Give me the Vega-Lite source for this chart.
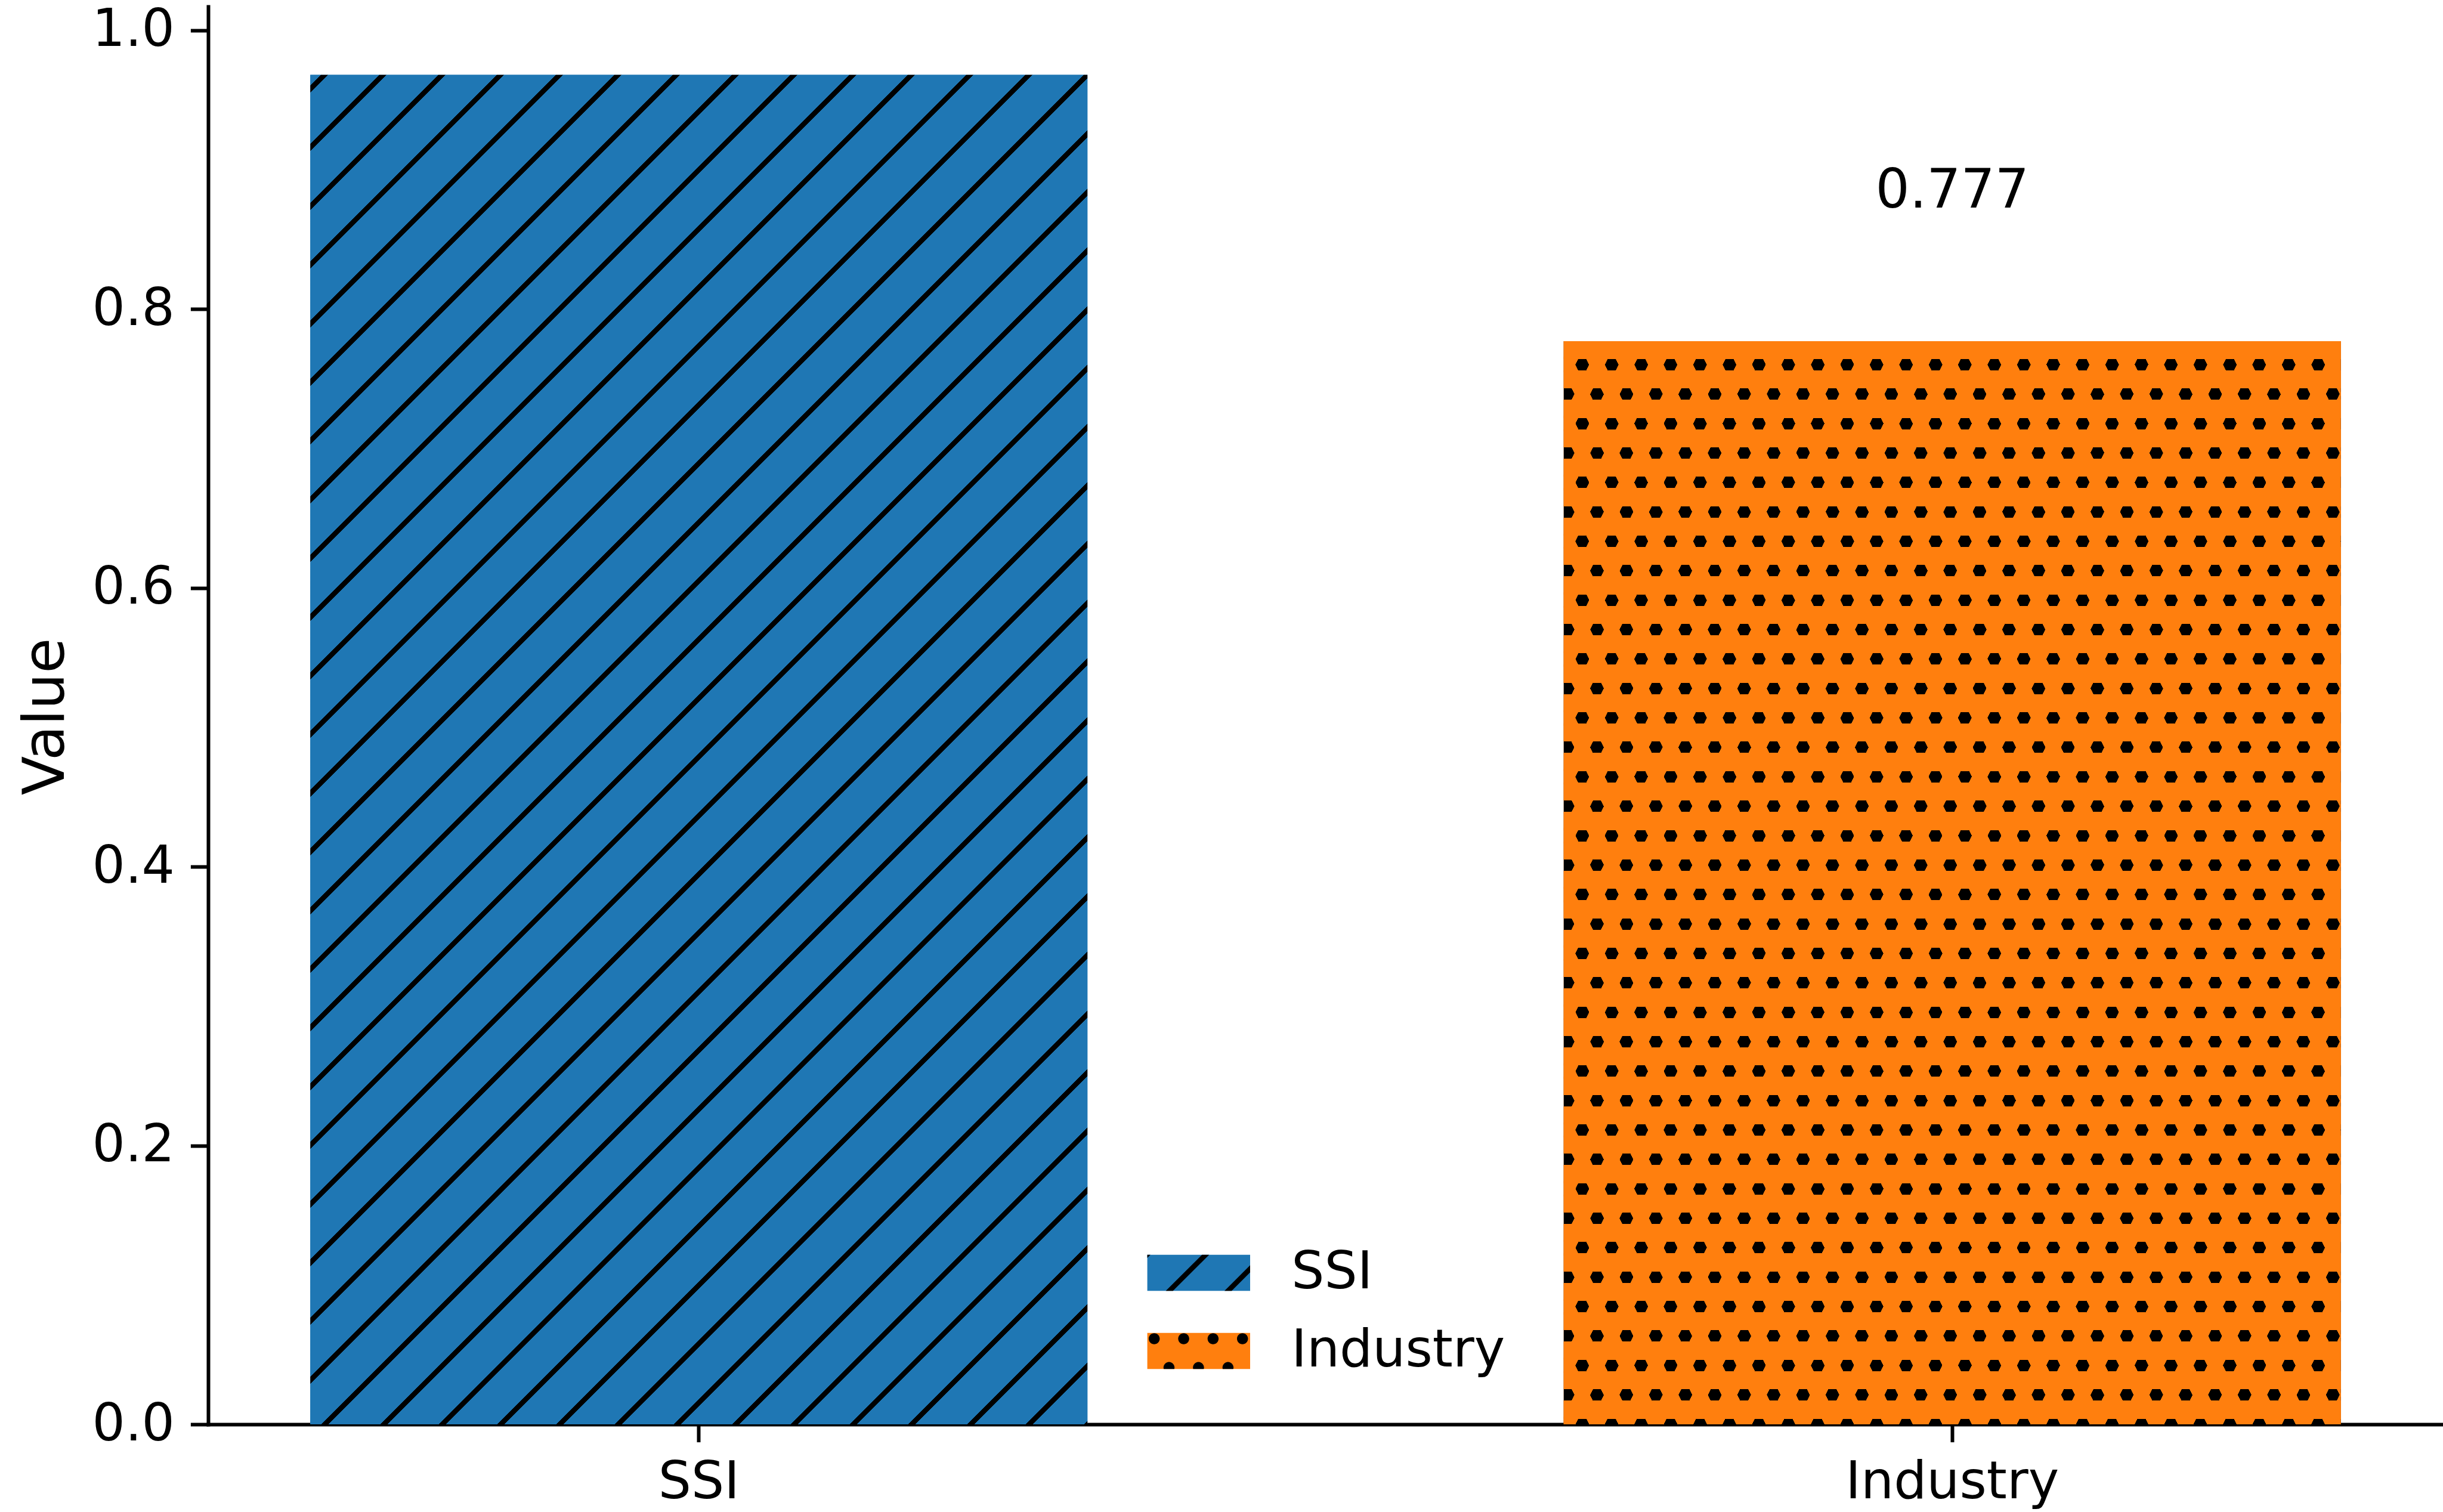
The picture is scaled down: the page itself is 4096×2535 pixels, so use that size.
{
"$schema": "https://vega.github.io/schema/vega-lite/v6.json",
"autosize": {"type": "none"},
"padding": {"left": 349, "top": 11, "right": 0, "bottom": 147},
"width": 3747,
"height": 2377,
"background": "white",
"config": {
  "view": {"stroke": null},
  "font": "DejaVu Sans",
  "axis": {"labelFont": "DejaVu Sans", "labelFontSize": 87, "labelColor": "#000", "labelLimit": 2000, "tickColor": "#000", "tickWidth": 6, "tickSize": 29.6, "domainColor": "#000", "domainWidth": 6, "domainCap": "square", "grid": false, "zindex": 1, "titleFont": "DejaVu Sans", "titleFontWeight": "normal", "titleColor": "#000"}
},
"data": {"values": [
  {"category": "SSI", "value": 0.968},
  {"category": "Industry", "value": 0.777}
]},
"encoding": {
  "x": {"field": "category", "type": "nominal", "sort": ["SSI", "Industry"],
        "scale": {"paddingInner": 0.38, "paddingOuter": 0.0815},
        "axis": {"title": null, "labelAngle": 0, "labelPadding": 25}},
  "y": {"field": "value", "type": "quantitative",
        "scale": {"domain": [0, 1.017], "nice": false, "zero": true},
        "axis": {"title": "Value", "values": [0, 0.2, 0.4, 0.6, 0.8, 1.0], "format": ".1f", "labelPadding": 27,
                 "titleFontSize": 96, "titleX": -243, "titleY": 1190, "titleAngle": 270, "titleBaseline": "alphabetic", "titleAlign": "center"}}
},
"layer": [
  {
    "mark": {"type": "bar"},
    "encoding": {
      "fill": {"field": "category", "type": "nominal", "sort": ["SSI", "Industry"],
               "scale": {"range": ["#1f77b4", "#ff7f0e"]},
               "legend": {"orient": "none", "legendX": 1574.3, "legendY": 2036.5, "title": null, "padding": 0,
                          "symbolType": "M-1,-0.3521H1V0.3521H-1Z", "symbolSize": 29722, "symbolStrokeWidth": 0,
                          "labelFont": "DejaVu Sans", "labelFontSize": 87, "labelColor": "#000", "labelLimit": 2000,
                          "labelOffset": 69, "rowPadding": 1}}
    }
  },
  {
    "transform": [{"filter": "datum.category === 'SSI'"}],
    "mark": {"type": "bar", "fill": {
      "gradient": "linear", "x1": 0, "y1": 0, "x2": 0.75236, "y2": 1.30642,
      "stops": [
        {"offset": 0, "color": "#1f77b4"},
        {"offset": 0.0045, "color": "#1f77b4"}, {"offset": 0.0045, "color": "#000"}, {"offset": 0.00755, "color": "#000"}, {"offset": 0.00755, "color": "#1f77b4"},
        {"offset": 0.0295, "color": "#1f77b4"}, {"offset": 0.0295, "color": "#000"}, {"offset": 0.03255, "color": "#000"}, {"offset": 0.03255, "color": "#1f77b4"},
        {"offset": 0.0545, "color": "#1f77b4"}, {"offset": 0.0545, "color": "#000"}, {"offset": 0.05755, "color": "#000"}, {"offset": 0.05755, "color": "#1f77b4"},
        {"offset": 0.0795, "color": "#1f77b4"}, {"offset": 0.0795, "color": "#000"}, {"offset": 0.08255, "color": "#000"}, {"offset": 0.08255, "color": "#1f77b4"},
        {"offset": 0.1045, "color": "#1f77b4"}, {"offset": 0.1045, "color": "#000"}, {"offset": 0.10755, "color": "#000"}, {"offset": 0.10755, "color": "#1f77b4"},
        {"offset": 0.1295, "color": "#1f77b4"}, {"offset": 0.1295, "color": "#000"}, {"offset": 0.13255, "color": "#000"}, {"offset": 0.13255, "color": "#1f77b4"},
        {"offset": 0.1545, "color": "#1f77b4"}, {"offset": 0.1545, "color": "#000"}, {"offset": 0.15755, "color": "#000"}, {"offset": 0.15755, "color": "#1f77b4"},
        {"offset": 0.1795, "color": "#1f77b4"}, {"offset": 0.1795, "color": "#000"}, {"offset": 0.18255, "color": "#000"}, {"offset": 0.18255, "color": "#1f77b4"},
        {"offset": 0.2045, "color": "#1f77b4"}, {"offset": 0.2045, "color": "#000"}, {"offset": 0.20755, "color": "#000"}, {"offset": 0.20755, "color": "#1f77b4"},
        {"offset": 0.2295, "color": "#1f77b4"}, {"offset": 0.2295, "color": "#000"}, {"offset": 0.23255, "color": "#000"}, {"offset": 0.23255, "color": "#1f77b4"},
        {"offset": 0.2545, "color": "#1f77b4"}, {"offset": 0.2545, "color": "#000"}, {"offset": 0.25755, "color": "#000"}, {"offset": 0.25755, "color": "#1f77b4"},
        {"offset": 0.2795, "color": "#1f77b4"}, {"offset": 0.2795, "color": "#000"}, {"offset": 0.28255, "color": "#000"}, {"offset": 0.28255, "color": "#1f77b4"},
        {"offset": 0.3045, "color": "#1f77b4"}, {"offset": 0.3045, "color": "#000"}, {"offset": 0.30755, "color": "#000"}, {"offset": 0.30755, "color": "#1f77b4"},
        {"offset": 0.3295, "color": "#1f77b4"}, {"offset": 0.3295, "color": "#000"}, {"offset": 0.33255, "color": "#000"}, {"offset": 0.33255, "color": "#1f77b4"},
        {"offset": 0.3545, "color": "#1f77b4"}, {"offset": 0.3545, "color": "#000"}, {"offset": 0.35755, "color": "#000"}, {"offset": 0.35755, "color": "#1f77b4"},
        {"offset": 0.3795, "color": "#1f77b4"}, {"offset": 0.3795, "color": "#000"}, {"offset": 0.38255, "color": "#000"}, {"offset": 0.38255, "color": "#1f77b4"},
        {"offset": 0.4045, "color": "#1f77b4"}, {"offset": 0.4045, "color": "#000"}, {"offset": 0.40755, "color": "#000"}, {"offset": 0.40755, "color": "#1f77b4"},
        {"offset": 0.4295, "color": "#1f77b4"}, {"offset": 0.4295, "color": "#000"}, {"offset": 0.43255, "color": "#000"}, {"offset": 0.43255, "color": "#1f77b4"},
        {"offset": 0.4545, "color": "#1f77b4"}, {"offset": 0.4545, "color": "#000"}, {"offset": 0.45755, "color": "#000"}, {"offset": 0.45755, "color": "#1f77b4"},
        {"offset": 0.4795, "color": "#1f77b4"}, {"offset": 0.4795, "color": "#000"}, {"offset": 0.48255, "color": "#000"}, {"offset": 0.48255, "color": "#1f77b4"},
        {"offset": 0.5045, "color": "#1f77b4"}, {"offset": 0.5045, "color": "#000"}, {"offset": 0.50755, "color": "#000"}, {"offset": 0.50755, "color": "#1f77b4"},
        {"offset": 0.5295, "color": "#1f77b4"}, {"offset": 0.5295, "color": "#000"}, {"offset": 0.53255, "color": "#000"}, {"offset": 0.53255, "color": "#1f77b4"},
        {"offset": 0.5545, "color": "#1f77b4"}, {"offset": 0.5545, "color": "#000"}, {"offset": 0.55755, "color": "#000"}, {"offset": 0.55755, "color": "#1f77b4"},
        {"offset": 0.5795, "color": "#1f77b4"}, {"offset": 0.5795, "color": "#000"}, {"offset": 0.58255, "color": "#000"}, {"offset": 0.58255, "color": "#1f77b4"},
        {"offset": 0.6045, "color": "#1f77b4"}, {"offset": 0.6045, "color": "#000"}, {"offset": 0.60755, "color": "#000"}, {"offset": 0.60755, "color": "#1f77b4"},
        {"offset": 0.6295, "color": "#1f77b4"}, {"offset": 0.6295, "color": "#000"}, {"offset": 0.63255, "color": "#000"}, {"offset": 0.63255, "color": "#1f77b4"},
        {"offset": 0.6545, "color": "#1f77b4"}, {"offset": 0.6545, "color": "#000"}, {"offset": 0.65755, "color": "#000"}, {"offset": 0.65755, "color": "#1f77b4"},
        {"offset": 0.6795, "color": "#1f77b4"}, {"offset": 0.6795, "color": "#000"}, {"offset": 0.68255, "color": "#000"}, {"offset": 0.68255, "color": "#1f77b4"},
        {"offset": 0.7045, "color": "#1f77b4"}, {"offset": 0.7045, "color": "#000"}, {"offset": 0.70755, "color": "#000"}, {"offset": 0.70755, "color": "#1f77b4"},
        {"offset": 0.7295, "color": "#1f77b4"}, {"offset": 0.7295, "color": "#000"}, {"offset": 0.73255, "color": "#000"}, {"offset": 0.73255, "color": "#1f77b4"},
        {"offset": 0.7545, "color": "#1f77b4"}, {"offset": 0.7545, "color": "#000"}, {"offset": 0.75755, "color": "#000"}, {"offset": 0.75755, "color": "#1f77b4"},
        {"offset": 0.7795, "color": "#1f77b4"}, {"offset": 0.7795, "color": "#000"}, {"offset": 0.78255, "color": "#000"}, {"offset": 0.78255, "color": "#1f77b4"},
        {"offset": 0.8045, "color": "#1f77b4"}, {"offset": 0.8045, "color": "#000"}, {"offset": 0.80755, "color": "#000"}, {"offset": 0.80755, "color": "#1f77b4"},
        {"offset": 0.8295, "color": "#1f77b4"}, {"offset": 0.8295, "color": "#000"}, {"offset": 0.83255, "color": "#000"}, {"offset": 0.83255, "color": "#1f77b4"},
        {"offset": 0.8545, "color": "#1f77b4"}, {"offset": 0.8545, "color": "#000"}, {"offset": 0.85755, "color": "#000"}, {"offset": 0.85755, "color": "#1f77b4"},
        {"offset": 0.8795, "color": "#1f77b4"}, {"offset": 0.8795, "color": "#000"}, {"offset": 0.88255, "color": "#000"}, {"offset": 0.88255, "color": "#1f77b4"},
        {"offset": 0.9045, "color": "#1f77b4"}, {"offset": 0.9045, "color": "#000"}, {"offset": 0.90755, "color": "#000"}, {"offset": 0.90755, "color": "#1f77b4"},
        {"offset": 1, "color": "#1f77b4"}
      ]}}
  },
  {
    "transform": [{"filter": "datum.category === 'Industry'"}],
    "mark": {"type": "bar", "fill": "#000"}
  },
  {
    "transform": [{"filter": "datum.category === 'Industry'"}],
    "mark": {"type": "bar", "fill": {
      "gradient": "linear", "x1": 0, "y1": 0, "x2": 0, "y2": 1.08697,
      "stops": [
        {"offset": 0, "color": "#ff7f0e"},
        {"offset": 0.01519, "color": "#ff7f0e"}, {"offset": 0.01519, "color": "transparent"}, {"offset": 0.02481, "color": "transparent"}, {"offset": 0.02481, "color": "#ff7f0e"},
        {"offset": 0.04019, "color": "#ff7f0e"}, {"offset": 0.04019, "color": "transparent"}, {"offset": 0.04981, "color": "transparent"}, {"offset": 0.04981, "color": "#ff7f0e"},
        {"offset": 0.06519, "color": "#ff7f0e"}, {"offset": 0.06519, "color": "transparent"}, {"offset": 0.07481, "color": "transparent"}, {"offset": 0.07481, "color": "#ff7f0e"},
        {"offset": 0.09019, "color": "#ff7f0e"}, {"offset": 0.09019, "color": "transparent"}, {"offset": 0.09981, "color": "transparent"}, {"offset": 0.09981, "color": "#ff7f0e"},
        {"offset": 0.11519, "color": "#ff7f0e"}, {"offset": 0.11519, "color": "transparent"}, {"offset": 0.12481, "color": "transparent"}, {"offset": 0.12481, "color": "#ff7f0e"},
        {"offset": 0.14019, "color": "#ff7f0e"}, {"offset": 0.14019, "color": "transparent"}, {"offset": 0.14981, "color": "transparent"}, {"offset": 0.14981, "color": "#ff7f0e"},
        {"offset": 0.16519, "color": "#ff7f0e"}, {"offset": 0.16519, "color": "transparent"}, {"offset": 0.17481, "color": "transparent"}, {"offset": 0.17481, "color": "#ff7f0e"},
        {"offset": 0.19019, "color": "#ff7f0e"}, {"offset": 0.19019, "color": "transparent"}, {"offset": 0.19981, "color": "transparent"}, {"offset": 0.19981, "color": "#ff7f0e"},
        {"offset": 0.21519, "color": "#ff7f0e"}, {"offset": 0.21519, "color": "transparent"}, {"offset": 0.22481, "color": "transparent"}, {"offset": 0.22481, "color": "#ff7f0e"},
        {"offset": 0.24019, "color": "#ff7f0e"}, {"offset": 0.24019, "color": "transparent"}, {"offset": 0.24981, "color": "transparent"}, {"offset": 0.24981, "color": "#ff7f0e"},
        {"offset": 0.26519, "color": "#ff7f0e"}, {"offset": 0.26519, "color": "transparent"}, {"offset": 0.27481, "color": "transparent"}, {"offset": 0.27481, "color": "#ff7f0e"},
        {"offset": 0.29019, "color": "#ff7f0e"}, {"offset": 0.29019, "color": "transparent"}, {"offset": 0.29981, "color": "transparent"}, {"offset": 0.29981, "color": "#ff7f0e"},
        {"offset": 0.31519, "color": "#ff7f0e"}, {"offset": 0.31519, "color": "transparent"}, {"offset": 0.32481, "color": "transparent"}, {"offset": 0.32481, "color": "#ff7f0e"},
        {"offset": 0.34019, "color": "#ff7f0e"}, {"offset": 0.34019, "color": "transparent"}, {"offset": 0.34981, "color": "transparent"}, {"offset": 0.34981, "color": "#ff7f0e"},
        {"offset": 0.36519, "color": "#ff7f0e"}, {"offset": 0.36519, "color": "transparent"}, {"offset": 0.37481, "color": "transparent"}, {"offset": 0.37481, "color": "#ff7f0e"},
        {"offset": 0.39019, "color": "#ff7f0e"}, {"offset": 0.39019, "color": "transparent"}, {"offset": 0.39981, "color": "transparent"}, {"offset": 0.39981, "color": "#ff7f0e"},
        {"offset": 0.41519, "color": "#ff7f0e"}, {"offset": 0.41519, "color": "transparent"}, {"offset": 0.42481, "color": "transparent"}, {"offset": 0.42481, "color": "#ff7f0e"},
        {"offset": 0.44019, "color": "#ff7f0e"}, {"offset": 0.44019, "color": "transparent"}, {"offset": 0.44981, "color": "transparent"}, {"offset": 0.44981, "color": "#ff7f0e"},
        {"offset": 0.46519, "color": "#ff7f0e"}, {"offset": 0.46519, "color": "transparent"}, {"offset": 0.47481, "color": "transparent"}, {"offset": 0.47481, "color": "#ff7f0e"},
        {"offset": 0.49019, "color": "#ff7f0e"}, {"offset": 0.49019, "color": "transparent"}, {"offset": 0.49981, "color": "transparent"}, {"offset": 0.49981, "color": "#ff7f0e"},
        {"offset": 0.51519, "color": "#ff7f0e"}, {"offset": 0.51519, "color": "transparent"}, {"offset": 0.52481, "color": "transparent"}, {"offset": 0.52481, "color": "#ff7f0e"},
        {"offset": 0.54019, "color": "#ff7f0e"}, {"offset": 0.54019, "color": "transparent"}, {"offset": 0.54981, "color": "transparent"}, {"offset": 0.54981, "color": "#ff7f0e"},
        {"offset": 0.56519, "color": "#ff7f0e"}, {"offset": 0.56519, "color": "transparent"}, {"offset": 0.57481, "color": "transparent"}, {"offset": 0.57481, "color": "#ff7f0e"},
        {"offset": 0.59019, "color": "#ff7f0e"}, {"offset": 0.59019, "color": "transparent"}, {"offset": 0.59981, "color": "transparent"}, {"offset": 0.59981, "color": "#ff7f0e"},
        {"offset": 0.61519, "color": "#ff7f0e"}, {"offset": 0.61519, "color": "transparent"}, {"offset": 0.62481, "color": "transparent"}, {"offset": 0.62481, "color": "#ff7f0e"},
        {"offset": 0.64019, "color": "#ff7f0e"}, {"offset": 0.64019, "color": "transparent"}, {"offset": 0.64981, "color": "transparent"}, {"offset": 0.64981, "color": "#ff7f0e"},
        {"offset": 0.66519, "color": "#ff7f0e"}, {"offset": 0.66519, "color": "transparent"}, {"offset": 0.67481, "color": "transparent"}, {"offset": 0.67481, "color": "#ff7f0e"},
        {"offset": 0.69019, "color": "#ff7f0e"}, {"offset": 0.69019, "color": "transparent"}, {"offset": 0.69981, "color": "transparent"}, {"offset": 0.69981, "color": "#ff7f0e"},
        {"offset": 0.71519, "color": "#ff7f0e"}, {"offset": 0.71519, "color": "transparent"}, {"offset": 0.72481, "color": "transparent"}, {"offset": 0.72481, "color": "#ff7f0e"},
        {"offset": 0.74019, "color": "#ff7f0e"}, {"offset": 0.74019, "color": "transparent"}, {"offset": 0.74981, "color": "transparent"}, {"offset": 0.74981, "color": "#ff7f0e"},
        {"offset": 0.76519, "color": "#ff7f0e"}, {"offset": 0.76519, "color": "transparent"}, {"offset": 0.77481, "color": "transparent"}, {"offset": 0.77481, "color": "#ff7f0e"},
        {"offset": 0.79019, "color": "#ff7f0e"}, {"offset": 0.79019, "color": "transparent"}, {"offset": 0.79981, "color": "transparent"}, {"offset": 0.79981, "color": "#ff7f0e"},
        {"offset": 0.81519, "color": "#ff7f0e"}, {"offset": 0.81519, "color": "transparent"}, {"offset": 0.82481, "color": "transparent"}, {"offset": 0.82481, "color": "#ff7f0e"},
        {"offset": 0.84019, "color": "#ff7f0e"}, {"offset": 0.84019, "color": "transparent"}, {"offset": 0.84981, "color": "transparent"}, {"offset": 0.84981, "color": "#ff7f0e"},
        {"offset": 0.86519, "color": "#ff7f0e"}, {"offset": 0.86519, "color": "transparent"}, {"offset": 0.87481, "color": "transparent"}, {"offset": 0.87481, "color": "#ff7f0e"},
        {"offset": 0.89019, "color": "#ff7f0e"}, {"offset": 0.89019, "color": "transparent"}, {"offset": 0.89981, "color": "transparent"}, {"offset": 0.89981, "color": "#ff7f0e"},
        {"offset": 0.91519, "color": "#ff7f0e"}, {"offset": 0.91519, "color": "transparent"}, {"offset": 0.92481, "color": "transparent"}, {"offset": 0.92481, "color": "#ff7f0e"},
        {"offset": 1, "color": "#ff7f0e"}
      ]}}
  },
  {
    "transform": [{"filter": "datum.category === 'Industry'"}],
    "mark": {"type": "bar", "fill": {
      "gradient": "linear", "x1": 0, "y1": 1.03263, "x2": 1.2747, "y2": 0.14428,
      "stops": [
        {"offset": 0, "color": "#ff7f0e"},
        {"offset": 0.01994, "color": "#ff7f0e"}, {"offset": 0.01994, "color": "transparent"}, {"offset": 0.02926, "color": "transparent"}, {"offset": 0.02926, "color": "#ff7f0e"},
        {"offset": 0.03994, "color": "#ff7f0e"}, {"offset": 0.03994, "color": "transparent"}, {"offset": 0.04926, "color": "transparent"}, {"offset": 0.04926, "color": "#ff7f0e"},
        {"offset": 0.05994, "color": "#ff7f0e"}, {"offset": 0.05994, "color": "transparent"}, {"offset": 0.06926, "color": "transparent"}, {"offset": 0.06926, "color": "#ff7f0e"},
        {"offset": 0.07994, "color": "#ff7f0e"}, {"offset": 0.07994, "color": "transparent"}, {"offset": 0.08926, "color": "transparent"}, {"offset": 0.08926, "color": "#ff7f0e"},
        {"offset": 0.09994, "color": "#ff7f0e"}, {"offset": 0.09994, "color": "transparent"}, {"offset": 0.10926, "color": "transparent"}, {"offset": 0.10926, "color": "#ff7f0e"},
        {"offset": 0.11994, "color": "#ff7f0e"}, {"offset": 0.11994, "color": "transparent"}, {"offset": 0.12926, "color": "transparent"}, {"offset": 0.12926, "color": "#ff7f0e"},
        {"offset": 0.13994, "color": "#ff7f0e"}, {"offset": 0.13994, "color": "transparent"}, {"offset": 0.14926, "color": "transparent"}, {"offset": 0.14926, "color": "#ff7f0e"},
        {"offset": 0.15994, "color": "#ff7f0e"}, {"offset": 0.15994, "color": "transparent"}, {"offset": 0.16926, "color": "transparent"}, {"offset": 0.16926, "color": "#ff7f0e"},
        {"offset": 0.17994, "color": "#ff7f0e"}, {"offset": 0.17994, "color": "transparent"}, {"offset": 0.18926, "color": "transparent"}, {"offset": 0.18926, "color": "#ff7f0e"},
        {"offset": 0.19994, "color": "#ff7f0e"}, {"offset": 0.19994, "color": "transparent"}, {"offset": 0.20926, "color": "transparent"}, {"offset": 0.20926, "color": "#ff7f0e"},
        {"offset": 0.21994, "color": "#ff7f0e"}, {"offset": 0.21994, "color": "transparent"}, {"offset": 0.22926, "color": "transparent"}, {"offset": 0.22926, "color": "#ff7f0e"},
        {"offset": 0.23994, "color": "#ff7f0e"}, {"offset": 0.23994, "color": "transparent"}, {"offset": 0.24926, "color": "transparent"}, {"offset": 0.24926, "color": "#ff7f0e"},
        {"offset": 0.25994, "color": "#ff7f0e"}, {"offset": 0.25994, "color": "transparent"}, {"offset": 0.26926, "color": "transparent"}, {"offset": 0.26926, "color": "#ff7f0e"},
        {"offset": 0.27994, "color": "#ff7f0e"}, {"offset": 0.27994, "color": "transparent"}, {"offset": 0.28926, "color": "transparent"}, {"offset": 0.28926, "color": "#ff7f0e"},
        {"offset": 0.29994, "color": "#ff7f0e"}, {"offset": 0.29994, "color": "transparent"}, {"offset": 0.30926, "color": "transparent"}, {"offset": 0.30926, "color": "#ff7f0e"},
        {"offset": 0.31994, "color": "#ff7f0e"}, {"offset": 0.31994, "color": "transparent"}, {"offset": 0.32926, "color": "transparent"}, {"offset": 0.32926, "color": "#ff7f0e"},
        {"offset": 0.33994, "color": "#ff7f0e"}, {"offset": 0.33994, "color": "transparent"}, {"offset": 0.34926, "color": "transparent"}, {"offset": 0.34926, "color": "#ff7f0e"},
        {"offset": 0.35994, "color": "#ff7f0e"}, {"offset": 0.35994, "color": "transparent"}, {"offset": 0.36926, "color": "transparent"}, {"offset": 0.36926, "color": "#ff7f0e"},
        {"offset": 0.37994, "color": "#ff7f0e"}, {"offset": 0.37994, "color": "transparent"}, {"offset": 0.38926, "color": "transparent"}, {"offset": 0.38926, "color": "#ff7f0e"},
        {"offset": 0.39994, "color": "#ff7f0e"}, {"offset": 0.39994, "color": "transparent"}, {"offset": 0.40926, "color": "transparent"}, {"offset": 0.40926, "color": "#ff7f0e"},
        {"offset": 0.41994, "color": "#ff7f0e"}, {"offset": 0.41994, "color": "transparent"}, {"offset": 0.42926, "color": "transparent"}, {"offset": 0.42926, "color": "#ff7f0e"},
        {"offset": 0.43994, "color": "#ff7f0e"}, {"offset": 0.43994, "color": "transparent"}, {"offset": 0.44926, "color": "transparent"}, {"offset": 0.44926, "color": "#ff7f0e"},
        {"offset": 0.45994, "color": "#ff7f0e"}, {"offset": 0.45994, "color": "transparent"}, {"offset": 0.46926, "color": "transparent"}, {"offset": 0.46926, "color": "#ff7f0e"},
        {"offset": 0.47994, "color": "#ff7f0e"}, {"offset": 0.47994, "color": "transparent"}, {"offset": 0.48926, "color": "transparent"}, {"offset": 0.48926, "color": "#ff7f0e"},
        {"offset": 0.49994, "color": "#ff7f0e"}, {"offset": 0.49994, "color": "transparent"}, {"offset": 0.50926, "color": "transparent"}, {"offset": 0.50926, "color": "#ff7f0e"},
        {"offset": 0.51994, "color": "#ff7f0e"}, {"offset": 0.51994, "color": "transparent"}, {"offset": 0.52926, "color": "transparent"}, {"offset": 0.52926, "color": "#ff7f0e"},
        {"offset": 0.53994, "color": "#ff7f0e"}, {"offset": 0.53994, "color": "transparent"}, {"offset": 0.54926, "color": "transparent"}, {"offset": 0.54926, "color": "#ff7f0e"},
        {"offset": 0.55994, "color": "#ff7f0e"}, {"offset": 0.55994, "color": "transparent"}, {"offset": 0.56926, "color": "transparent"}, {"offset": 0.56926, "color": "#ff7f0e"},
        {"offset": 0.57994, "color": "#ff7f0e"}, {"offset": 0.57994, "color": "transparent"}, {"offset": 0.58926, "color": "transparent"}, {"offset": 0.58926, "color": "#ff7f0e"},
        {"offset": 0.59994, "color": "#ff7f0e"}, {"offset": 0.59994, "color": "transparent"}, {"offset": 0.60926, "color": "transparent"}, {"offset": 0.60926, "color": "#ff7f0e"},
        {"offset": 0.61994, "color": "#ff7f0e"}, {"offset": 0.61994, "color": "transparent"}, {"offset": 0.62926, "color": "transparent"}, {"offset": 0.62926, "color": "#ff7f0e"},
        {"offset": 0.63994, "color": "#ff7f0e"}, {"offset": 0.63994, "color": "transparent"}, {"offset": 0.64926, "color": "transparent"}, {"offset": 0.64926, "color": "#ff7f0e"},
        {"offset": 0.65994, "color": "#ff7f0e"}, {"offset": 0.65994, "color": "transparent"}, {"offset": 0.66926, "color": "transparent"}, {"offset": 0.66926, "color": "#ff7f0e"},
        {"offset": 0.67994, "color": "#ff7f0e"}, {"offset": 0.67994, "color": "transparent"}, {"offset": 0.68926, "color": "transparent"}, {"offset": 0.68926, "color": "#ff7f0e"},
        {"offset": 0.69994, "color": "#ff7f0e"}, {"offset": 0.69994, "color": "transparent"}, {"offset": 0.70926, "color": "transparent"}, {"offset": 0.70926, "color": "#ff7f0e"},
        {"offset": 0.71994, "color": "#ff7f0e"}, {"offset": 0.71994, "color": "transparent"}, {"offset": 0.72926, "color": "transparent"}, {"offset": 0.72926, "color": "#ff7f0e"},
        {"offset": 0.73994, "color": "#ff7f0e"}, {"offset": 0.73994, "color": "transparent"}, {"offset": 0.74926, "color": "transparent"}, {"offset": 0.74926, "color": "#ff7f0e"},
        {"offset": 0.75994, "color": "#ff7f0e"}, {"offset": 0.75994, "color": "transparent"}, {"offset": 0.76926, "color": "transparent"}, {"offset": 0.76926, "color": "#ff7f0e"},
        {"offset": 0.77994, "color": "#ff7f0e"}, {"offset": 0.77994, "color": "transparent"}, {"offset": 0.78926, "color": "transparent"}, {"offset": 0.78926, "color": "#ff7f0e"},
        {"offset": 0.79994, "color": "#ff7f0e"}, {"offset": 0.79994, "color": "transparent"}, {"offset": 0.80926, "color": "transparent"}, {"offset": 0.80926, "color": "#ff7f0e"},
        {"offset": 0.81994, "color": "#ff7f0e"}, {"offset": 0.81994, "color": "transparent"}, {"offset": 0.82926, "color": "transparent"}, {"offset": 0.82926, "color": "#ff7f0e"},
        {"offset": 0.83994, "color": "#ff7f0e"}, {"offset": 0.83994, "color": "transparent"}, {"offset": 0.84926, "color": "transparent"}, {"offset": 0.84926, "color": "#ff7f0e"},
        {"offset": 0.85994, "color": "#ff7f0e"}, {"offset": 0.85994, "color": "transparent"}, {"offset": 0.86926, "color": "transparent"}, {"offset": 0.86926, "color": "#ff7f0e"},
        {"offset": 0.87994, "color": "#ff7f0e"}, {"offset": 0.87994, "color": "transparent"}, {"offset": 0.88926, "color": "transparent"}, {"offset": 0.88926, "color": "#ff7f0e"},
        {"offset": 0.89994, "color": "#ff7f0e"}, {"offset": 0.89994, "color": "transparent"}, {"offset": 0.90926, "color": "transparent"}, {"offset": 0.90926, "color": "#ff7f0e"},
        {"offset": 1, "color": "#ff7f0e"}
      ]}}
  },
  {
    "transform": [{"filter": "datum.category === 'Industry'"}],
    "mark": {"type": "bar", "fill": {
      "gradient": "linear", "x1": 0, "y1": 0, "x2": 1.2747, "y2": 0.88835,
      "stops": [
        {"offset": 0, "color": "transparent"}, {"offset": 0.00526, "color": "transparent"}, {"offset": 0.00526, "color": "#ff7f0e"},
        {"offset": 0.01594, "color": "#ff7f0e"}, {"offset": 0.01594, "color": "transparent"}, {"offset": 0.02526, "color": "transparent"}, {"offset": 0.02526, "color": "#ff7f0e"},
        {"offset": 0.03594, "color": "#ff7f0e"}, {"offset": 0.03594, "color": "transparent"}, {"offset": 0.04526, "color": "transparent"}, {"offset": 0.04526, "color": "#ff7f0e"},
        {"offset": 0.05594, "color": "#ff7f0e"}, {"offset": 0.05594, "color": "transparent"}, {"offset": 0.06526, "color": "transparent"}, {"offset": 0.06526, "color": "#ff7f0e"},
        {"offset": 0.07594, "color": "#ff7f0e"}, {"offset": 0.07594, "color": "transparent"}, {"offset": 0.08526, "color": "transparent"}, {"offset": 0.08526, "color": "#ff7f0e"},
        {"offset": 0.09594, "color": "#ff7f0e"}, {"offset": 0.09594, "color": "transparent"}, {"offset": 0.10526, "color": "transparent"}, {"offset": 0.10526, "color": "#ff7f0e"},
        {"offset": 0.11594, "color": "#ff7f0e"}, {"offset": 0.11594, "color": "transparent"}, {"offset": 0.12526, "color": "transparent"}, {"offset": 0.12526, "color": "#ff7f0e"},
        {"offset": 0.13594, "color": "#ff7f0e"}, {"offset": 0.13594, "color": "transparent"}, {"offset": 0.14526, "color": "transparent"}, {"offset": 0.14526, "color": "#ff7f0e"},
        {"offset": 0.15594, "color": "#ff7f0e"}, {"offset": 0.15594, "color": "transparent"}, {"offset": 0.16526, "color": "transparent"}, {"offset": 0.16526, "color": "#ff7f0e"},
        {"offset": 0.17594, "color": "#ff7f0e"}, {"offset": 0.17594, "color": "transparent"}, {"offset": 0.18526, "color": "transparent"}, {"offset": 0.18526, "color": "#ff7f0e"},
        {"offset": 0.19594, "color": "#ff7f0e"}, {"offset": 0.19594, "color": "transparent"}, {"offset": 0.20526, "color": "transparent"}, {"offset": 0.20526, "color": "#ff7f0e"},
        {"offset": 0.21594, "color": "#ff7f0e"}, {"offset": 0.21594, "color": "transparent"}, {"offset": 0.22526, "color": "transparent"}, {"offset": 0.22526, "color": "#ff7f0e"},
        {"offset": 0.23594, "color": "#ff7f0e"}, {"offset": 0.23594, "color": "transparent"}, {"offset": 0.24526, "color": "transparent"}, {"offset": 0.24526, "color": "#ff7f0e"},
        {"offset": 0.25594, "color": "#ff7f0e"}, {"offset": 0.25594, "color": "transparent"}, {"offset": 0.26526, "color": "transparent"}, {"offset": 0.26526, "color": "#ff7f0e"},
        {"offset": 0.27594, "color": "#ff7f0e"}, {"offset": 0.27594, "color": "transparent"}, {"offset": 0.28526, "color": "transparent"}, {"offset": 0.28526, "color": "#ff7f0e"},
        {"offset": 0.29594, "color": "#ff7f0e"}, {"offset": 0.29594, "color": "transparent"}, {"offset": 0.30526, "color": "transparent"}, {"offset": 0.30526, "color": "#ff7f0e"},
        {"offset": 0.31594, "color": "#ff7f0e"}, {"offset": 0.31594, "color": "transparent"}, {"offset": 0.32526, "color": "transparent"}, {"offset": 0.32526, "color": "#ff7f0e"},
        {"offset": 0.33594, "color": "#ff7f0e"}, {"offset": 0.33594, "color": "transparent"}, {"offset": 0.34526, "color": "transparent"}, {"offset": 0.34526, "color": "#ff7f0e"},
        {"offset": 0.35594, "color": "#ff7f0e"}, {"offset": 0.35594, "color": "transparent"}, {"offset": 0.36526, "color": "transparent"}, {"offset": 0.36526, "color": "#ff7f0e"},
        {"offset": 0.37594, "color": "#ff7f0e"}, {"offset": 0.37594, "color": "transparent"}, {"offset": 0.38526, "color": "transparent"}, {"offset": 0.38526, "color": "#ff7f0e"},
        {"offset": 0.39594, "color": "#ff7f0e"}, {"offset": 0.39594, "color": "transparent"}, {"offset": 0.40526, "color": "transparent"}, {"offset": 0.40526, "color": "#ff7f0e"},
        {"offset": 0.41594, "color": "#ff7f0e"}, {"offset": 0.41594, "color": "transparent"}, {"offset": 0.42526, "color": "transparent"}, {"offset": 0.42526, "color": "#ff7f0e"},
        {"offset": 0.43594, "color": "#ff7f0e"}, {"offset": 0.43594, "color": "transparent"}, {"offset": 0.44526, "color": "transparent"}, {"offset": 0.44526, "color": "#ff7f0e"},
        {"offset": 0.45594, "color": "#ff7f0e"}, {"offset": 0.45594, "color": "transparent"}, {"offset": 0.46526, "color": "transparent"}, {"offset": 0.46526, "color": "#ff7f0e"},
        {"offset": 0.47594, "color": "#ff7f0e"}, {"offset": 0.47594, "color": "transparent"}, {"offset": 0.48526, "color": "transparent"}, {"offset": 0.48526, "color": "#ff7f0e"},
        {"offset": 0.49594, "color": "#ff7f0e"}, {"offset": 0.49594, "color": "transparent"}, {"offset": 0.50526, "color": "transparent"}, {"offset": 0.50526, "color": "#ff7f0e"},
        {"offset": 0.51594, "color": "#ff7f0e"}, {"offset": 0.51594, "color": "transparent"}, {"offset": 0.52526, "color": "transparent"}, {"offset": 0.52526, "color": "#ff7f0e"},
        {"offset": 0.53594, "color": "#ff7f0e"}, {"offset": 0.53594, "color": "transparent"}, {"offset": 0.54526, "color": "transparent"}, {"offset": 0.54526, "color": "#ff7f0e"},
        {"offset": 0.55594, "color": "#ff7f0e"}, {"offset": 0.55594, "color": "transparent"}, {"offset": 0.56526, "color": "transparent"}, {"offset": 0.56526, "color": "#ff7f0e"},
        {"offset": 0.57594, "color": "#ff7f0e"}, {"offset": 0.57594, "color": "transparent"}, {"offset": 0.58526, "color": "transparent"}, {"offset": 0.58526, "color": "#ff7f0e"},
        {"offset": 0.59594, "color": "#ff7f0e"}, {"offset": 0.59594, "color": "transparent"}, {"offset": 0.60526, "color": "transparent"}, {"offset": 0.60526, "color": "#ff7f0e"},
        {"offset": 0.61594, "color": "#ff7f0e"}, {"offset": 0.61594, "color": "transparent"}, {"offset": 0.62526, "color": "transparent"}, {"offset": 0.62526, "color": "#ff7f0e"},
        {"offset": 0.63594, "color": "#ff7f0e"}, {"offset": 0.63594, "color": "transparent"}, {"offset": 0.64526, "color": "transparent"}, {"offset": 0.64526, "color": "#ff7f0e"},
        {"offset": 0.65594, "color": "#ff7f0e"}, {"offset": 0.65594, "color": "transparent"}, {"offset": 0.66526, "color": "transparent"}, {"offset": 0.66526, "color": "#ff7f0e"},
        {"offset": 0.67594, "color": "#ff7f0e"}, {"offset": 0.67594, "color": "transparent"}, {"offset": 0.68526, "color": "transparent"}, {"offset": 0.68526, "color": "#ff7f0e"},
        {"offset": 0.69594, "color": "#ff7f0e"}, {"offset": 0.69594, "color": "transparent"}, {"offset": 0.70526, "color": "transparent"}, {"offset": 0.70526, "color": "#ff7f0e"},
        {"offset": 0.71594, "color": "#ff7f0e"}, {"offset": 0.71594, "color": "transparent"}, {"offset": 0.72526, "color": "transparent"}, {"offset": 0.72526, "color": "#ff7f0e"},
        {"offset": 0.73594, "color": "#ff7f0e"}, {"offset": 0.73594, "color": "transparent"}, {"offset": 0.74526, "color": "transparent"}, {"offset": 0.74526, "color": "#ff7f0e"},
        {"offset": 0.75594, "color": "#ff7f0e"}, {"offset": 0.75594, "color": "transparent"}, {"offset": 0.76526, "color": "transparent"}, {"offset": 0.76526, "color": "#ff7f0e"},
        {"offset": 0.77594, "color": "#ff7f0e"}, {"offset": 0.77594, "color": "transparent"}, {"offset": 0.78526, "color": "transparent"}, {"offset": 0.78526, "color": "#ff7f0e"},
        {"offset": 0.79594, "color": "#ff7f0e"}, {"offset": 0.79594, "color": "transparent"}, {"offset": 0.80526, "color": "transparent"}, {"offset": 0.80526, "color": "#ff7f0e"},
        {"offset": 0.81594, "color": "#ff7f0e"}, {"offset": 0.81594, "color": "transparent"}, {"offset": 0.82526, "color": "transparent"}, {"offset": 0.82526, "color": "#ff7f0e"},
        {"offset": 0.83594, "color": "#ff7f0e"}, {"offset": 0.83594, "color": "transparent"}, {"offset": 0.84526, "color": "transparent"}, {"offset": 0.84526, "color": "#ff7f0e"},
        {"offset": 0.85594, "color": "#ff7f0e"}, {"offset": 0.85594, "color": "transparent"}, {"offset": 0.86526, "color": "transparent"}, {"offset": 0.86526, "color": "#ff7f0e"},
        {"offset": 0.87594, "color": "#ff7f0e"}, {"offset": 0.87594, "color": "transparent"}, {"offset": 0.88526, "color": "transparent"}, {"offset": 0.88526, "color": "#ff7f0e"},
        {"offset": 0.89594, "color": "#ff7f0e"}, {"offset": 0.89594, "color": "transparent"}, {"offset": 0.90526, "color": "transparent"}, {"offset": 0.90526, "color": "#ff7f0e"},
        {"offset": 1, "color": "#ff7f0e"}
      ]}}
  },
  {
    "transform": [{"filter": "datum.category === 'Industry'"}],
    "mark": {"type": "text", "dy": -224, "baseline": "alphabetic", "align": "center", "fontSize": 90, "font": "DejaVu Sans", "color": "#000"},
    "encoding": {"text": {"field": "value", "type": "quantitative", "format": ".3f"}}
  },
  {
    "mark": {"type": "point", "filled": true, "color": "#000", "size": 0, "opacity": 1},
    "encoding": {
      "shape": {"field": "category", "type": "nominal",
                "scale": {"domain": ["SSI", "Industry"],
                          "range": ["M-1,-0.3521L-0.9385,-0.3521L-1,-0.2906ZM0.0638,-0.3521L0.203,-0.3521L-0.5012,0.3521L-0.6404,0.3521ZM1,-0.1468L1,-0.0076L0.6404,0.3521L0.5012,0.3521Z",
                                    "M-0.9727,-0.2373A0.1073,0.1073,0,1,1,-0.7581,-0.2373A0.1073,0.1073,0,1,1,-0.9727,-0.2373ZM-0.3996,-0.2373A0.1073,0.1073,0,1,1,-0.185,-0.2373A0.1073,0.1073,0,1,1,-0.3996,-0.2373ZM0.1723,-0.2373A0.1073,0.1073,0,1,1,0.3869,-0.2373A0.1073,0.1073,0,1,1,0.1723,-0.2373ZM0.7442,-0.2373A0.1073,0.1073,0,1,1,0.9588,-0.2373A0.1073,0.1073,0,1,1,0.7442,-0.2373ZM-0.681,0.3521A0.1073,0.1073,0,1,1,-0.4744,0.3521ZM-0.1079,0.3521A0.1073,0.1073,0,1,1,0.0987,0.3521ZM0.4663,0.3521A0.1073,0.1073,0,1,1,0.6729,0.3521Z"]},
                "legend": {"orient": "none", "legendX": 1574.3, "legendY": 2036.5, "title": null, "padding": 0,
                           "symbolSize": 29722, "symbolStrokeWidth": 0, "symbolFillColor": "#000", "symbolOpacity": 1,
                           "labelFont": "DejaVu Sans", "labelFontSize": 87, "labelColor": "#000", "labelLimit": 2000, "labelOpacity": 0,
                           "labelOffset": 69, "rowPadding": 1}}
    }
  }
]
}
